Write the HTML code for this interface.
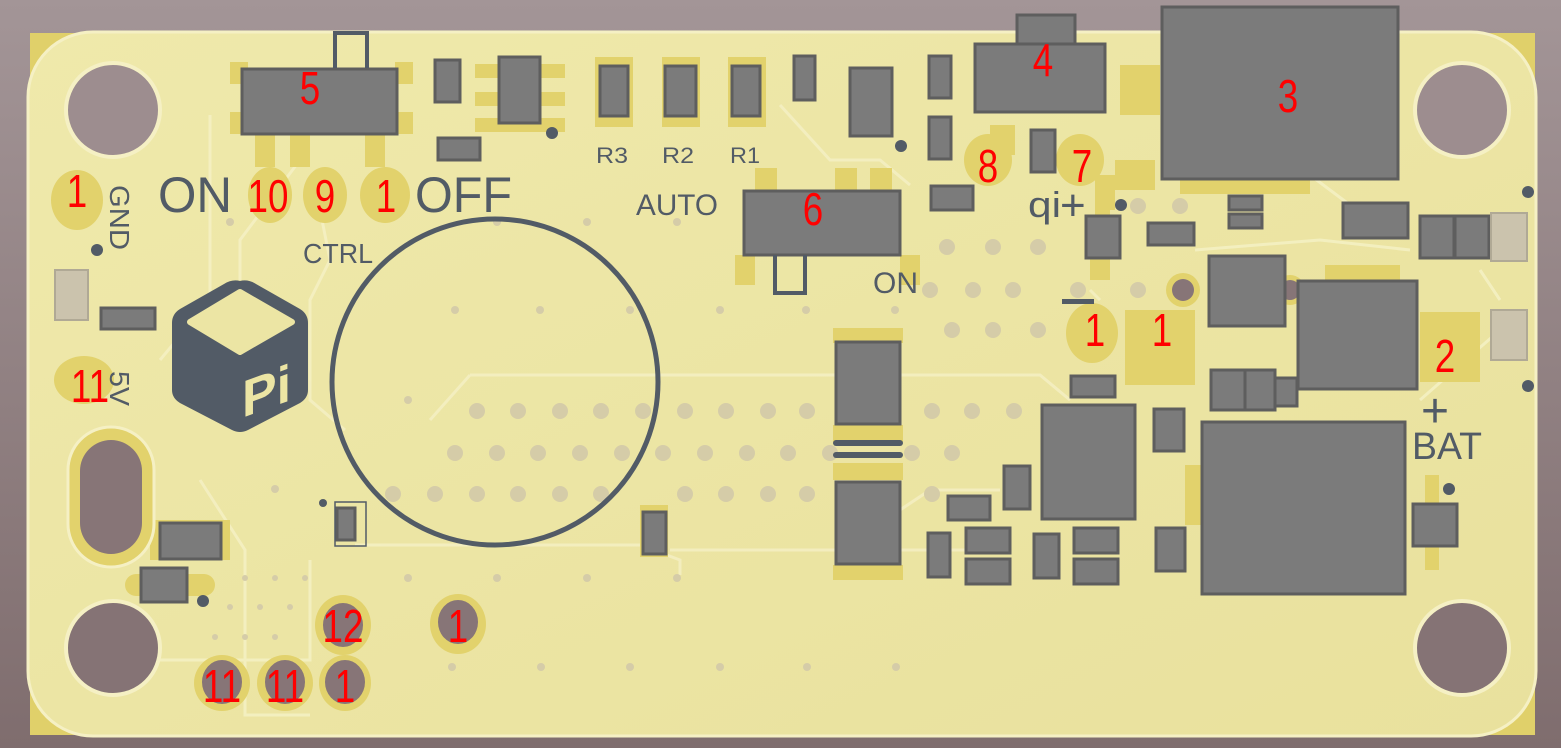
<!DOCTYPE html>
<html><head><meta charset="utf-8"><style>
html,body{margin:0;padding:0;width:1561px;height:748px;overflow:hidden}
svg{display:block}
.r{fill:#ff0000;font-family:"Liberation Sans",sans-serif;font-size:46px;text-anchor:middle}
.g{fill:#525b66;font-family:"Liberation Sans",sans-serif}
</style></head><body>
<svg width="1561" height="748" viewBox="0 0 1561 748" xmlns="http://www.w3.org/2000/svg">
<defs>
<linearGradient id="bg" x1="0" y1="0" x2="0" y2="1"><stop offset="0" stop-color="#a39597"/><stop offset="1" stop-color="#7f6d6e"/></linearGradient>
<linearGradient id="bd" x1="0" y1="0" x2="1" y2="1"><stop offset="0" stop-color="#efe9ab"/><stop offset="1" stop-color="#e9e19d"/></linearGradient>
</defs>
<rect width="1561" height="748" fill="url(#bg)"/>
<rect x="30" y="33" width="60" height="60" fill="#e0d06a"/>
<rect x="1475" y="33" width="60" height="60" fill="#e0d06a"/>
<rect x="30" y="675" width="60" height="60" fill="#e0d06a"/>
<rect x="1475" y="675" width="60" height="60" fill="#e0d06a"/>
<rect x="28" y="32" width="1508" height="704" rx="65" fill="url(#bd)" stroke="#f5f0c4" stroke-width="3"/>
<g fill="none" stroke="#f4efc2" stroke-width="3" opacity="0.9">
<path d="M210 115 V300 L160 360 M300 160 L240 240 L240 280 M320 210 L330 260 L310 300 L310 400 L345 430 M470 375 L1040 375 L1070 400"/>
<path d="M155 660 H310 V560 M200 480 L245 550 L245 715 H310 M355 545 H640 L680 560 V575 M670 550 H1000"/>
<path d="M780 105 L830 160 L880 160 L910 185 M1290 160 L1350 205 M1195 250 L1320 240 L1410 250 M1480 270 L1500 300 M1420 400 L1500 330"/>
<path d="M470 375 L430 420 M1090 290 L1100 300 M900 510 L930 490 L1000 490"/>
</g>
<g fill="#e2d26c">
<rect x="230" y="62" width="18" height="22"/><rect x="395" y="62" width="18" height="22"/>
<rect x="230" y="112" width="18" height="22"/><rect x="395" y="112" width="18" height="22"/>
<rect x="255" y="135" width="20" height="32"/><rect x="290" y="135" width="20" height="32"/><rect x="365" y="135" width="20" height="32"/>
<rect x="595" y="57" width="38" height="70"/><rect x="662" y="57" width="38" height="70"/><rect x="728" y="57" width="38" height="70"/>
<rect x="475" y="64" width="90" height="14"/><rect x="475" y="92" width="90" height="14"/><rect x="475" y="118" width="90" height="14"/>
<rect x="990" y="125" width="25" height="30"/><rect x="1120" y="65" width="40" height="50"/>
<rect x="1115" y="160" width="40" height="30"/><rect x="1180" y="180" width="130" height="14"/>
<rect x="755" y="168" width="22" height="22"/><rect x="835" y="168" width="22" height="22"/><rect x="870" y="168" width="22" height="22"/>
<rect x="735" y="255" width="20" height="30"/><rect x="900" y="255" width="20" height="30"/>
<rect x="1125" y="310" width="70" height="75"/><rect x="1420" y="312" width="60" height="70"/>
<rect x="1325" y="265" width="75" height="20"/><rect x="1205" y="545" width="55" height="20"/>
<rect x="1090" y="250" width="20" height="30"/><rect x="1095" y="175" width="20" height="35"/>
<rect x="833" y="328" width="70" height="15"/><rect x="833" y="425" width="70" height="17"/><rect x="833" y="463" width="70" height="17"/><rect x="833" y="565" width="70" height="15"/>
<rect x="1185" y="465" width="25" height="60"/><rect x="640" y="505" width="28" height="52"/>
<rect x="1425" y="475" width="14" height="45"/><rect x="1425" y="540" width="14" height="30"/>
<rect x="125" y="574" width="90" height="22" rx="11"/>
<rect x="150" y="520" width="80" height="40"/>
<ellipse cx="77" cy="200" rx="26" ry="30"/>
<ellipse cx="270" cy="195" rx="22" ry="28"/><ellipse cx="325" cy="195" rx="22" ry="28"/><ellipse cx="385" cy="195" rx="25" ry="28"/>
<ellipse cx="84" cy="380" rx="30" ry="24"/>
<ellipse cx="988" cy="160" rx="24" ry="26"/><ellipse cx="1080" cy="160" rx="24" ry="26"/>
<ellipse cx="1092" cy="333" rx="26" ry="30"/>
<rect x="1095" y="200" width="15" height="80" rx="7"/>
<ellipse cx="1183" cy="290" rx="17" ry="17"/><ellipse cx="1290" cy="290" rx="15" ry="15"/>
</g>
<g stroke="#f5f0c4" stroke-width="4">
<ellipse cx="113" cy="110" rx="47" ry="47" fill="#9d8d8f"/><ellipse cx="1462" cy="110" rx="47" ry="47" fill="#9d8d8f"/>
<ellipse cx="113" cy="648" rx="47" ry="47" fill="#857375"/><ellipse cx="1462" cy="648" rx="47" ry="47" fill="#857375"/>
</g>
<rect x="68" y="427" width="86" height="140" rx="43" fill="#e2d26c" stroke="#f5f0c4" stroke-width="3"/>
<rect x="80" y="440" width="62" height="114" rx="31" fill="#877577"/>
<g fill="#e2d26c"><ellipse cx="343" cy="625" rx="28" ry="30"/><ellipse cx="458" cy="624" rx="28" ry="30"/><ellipse cx="222" cy="683" rx="28" ry="28"/><ellipse cx="285" cy="683" rx="28" ry="28"/><ellipse cx="345" cy="683" rx="26" ry="28"/></g>
<g fill="#877577"><ellipse cx="343" cy="625" rx="20" ry="22"/><ellipse cx="458" cy="622" rx="20" ry="22"/><ellipse cx="222" cy="682" rx="20" ry="22"/><ellipse cx="285" cy="682" rx="20" ry="22"/><ellipse cx="345" cy="682" rx="20" ry="22"/><circle cx="1183" cy="290" r="11"/><circle cx="1290" cy="290" r="10"/></g>
<g fill="#d5cca8">
<circle cx="477" cy="411" r="8"/><circle cx="518" cy="411" r="8"/><circle cx="560" cy="411" r="8"/><circle cx="601" cy="411" r="8"/><circle cx="643" cy="411" r="8"/><circle cx="685" cy="411" r="8"/><circle cx="726" cy="411" r="8"/><circle cx="768" cy="411" r="8"/><circle cx="807" cy="411" r="8"/><circle cx="932" cy="411" r="8"/><circle cx="972" cy="411" r="8"/><circle cx="1014" cy="411" r="8"/>
<circle cx="455" cy="453" r="8"/><circle cx="497" cy="453" r="8"/><circle cx="538" cy="453" r="8"/><circle cx="580" cy="453" r="8"/><circle cx="622" cy="453" r="8"/><circle cx="663" cy="453" r="8"/><circle cx="705" cy="453" r="8"/><circle cx="747" cy="453" r="8"/><circle cx="788" cy="453" r="8"/><circle cx="830" cy="453" r="8"/><circle cx="912" cy="453" r="8"/><circle cx="952" cy="453" r="8"/>
<circle cx="393" cy="494" r="8"/><circle cx="435" cy="494" r="8"/><circle cx="477" cy="494" r="8"/><circle cx="518" cy="494" r="8"/><circle cx="560" cy="494" r="8"/><circle cx="601" cy="494" r="8"/><circle cx="685" cy="494" r="8"/><circle cx="726" cy="494" r="8"/><circle cx="768" cy="494" r="8"/><circle cx="807" cy="494" r="8"/><circle cx="932" cy="494" r="8"/>
<circle cx="947" cy="247" r="8"/><circle cx="993" cy="247" r="8"/><circle cx="1038" cy="247" r="8"/><circle cx="1138" cy="206" r="8"/><circle cx="1180" cy="206" r="8"/>
<circle cx="930" cy="290" r="8"/><circle cx="973" cy="290" r="8"/><circle cx="1013" cy="290" r="8"/><circle cx="1138" cy="290" r="8"/>
<circle cx="952" cy="330" r="8"/><circle cx="993" cy="330" r="8"/><circle cx="1038" cy="330" r="8"/><circle cx="1078" cy="290" r="8"/>
<circle cx="455" cy="310" r="4"/><circle cx="540" cy="310" r="4"/><circle cx="630" cy="310" r="4"/><circle cx="720" cy="310" r="4"/><circle cx="806" cy="310" r="4"/><circle cx="895" cy="310" r="4"/>
<circle cx="230" cy="222" r="4"/><circle cx="497" cy="222" r="4"/><circle cx="587" cy="222" r="4"/><circle cx="677" cy="222" r="4"/>
<circle cx="408" cy="400" r="4"/><circle cx="275" cy="489" r="4"/>
<circle cx="408" cy="578" r="4"/><circle cx="497" cy="578" r="4"/><circle cx="587" cy="578" r="4"/><circle cx="677" cy="578" r="4"/>
<circle cx="452" cy="667" r="4"/><circle cx="541" cy="667" r="4"/><circle cx="630" cy="667" r="4"/><circle cx="720" cy="667" r="4"/><circle cx="807" cy="667" r="4"/><circle cx="896" cy="667" r="4"/>
<circle cx="245" cy="578" r="3"/><circle cx="275" cy="578" r="3"/><circle cx="305" cy="578" r="3"/><circle cx="230" cy="607" r="3"/><circle cx="260" cy="607" r="3"/><circle cx="290" cy="607" r="3"/><circle cx="215" cy="637" r="3"/><circle cx="245" cy="637" r="3"/><circle cx="275" cy="637" r="3"/>
</g>
<g fill="#525b66"><circle cx="97" cy="250" r="6"/><circle cx="552" cy="133" r="6"/><circle cx="901" cy="146" r="6"/><circle cx="1121" cy="205" r="6"/><circle cx="1528" cy="192" r="6"/><circle cx="1528" cy="386" r="6"/><circle cx="1449" cy="489" r="6"/><circle cx="203" cy="601" r="6"/><circle cx="323" cy="503" r="4"/></g>
<circle cx="495" cy="382" r="163" fill="none" stroke="#525b66" stroke-width="5"/>
<g fill="#7b7b7b" stroke="#5e5e5e" stroke-width="3">
<rect x="242" y="69" width="155" height="65"/>
<rect x="435" y="60" width="25" height="42"/><rect x="499" y="57" width="41" height="66"/><rect x="438" y="138" width="42" height="22"/>
<rect x="600" y="66" width="28" height="50"/><rect x="665" y="66" width="31" height="50"/><rect x="732" y="66" width="28" height="50"/>
<rect x="794" y="56" width="21" height="44"/><rect x="850" y="68" width="42" height="68"/>
<rect x="929" y="56" width="22" height="42"/><rect x="929" y="117" width="22" height="42"/><rect x="931" y="186" width="42" height="24"/>
<rect x="975" y="44" width="130" height="68"/><rect x="1017" y="15" width="58" height="29"/>
<rect x="1162" y="7" width="236" height="172"/>
<rect x="744" y="191" width="156" height="64"/>
<rect x="1031" y="130" width="24" height="42"/><rect x="1086" y="216" width="34" height="42"/><rect x="1148" y="223" width="46" height="22"/>
<rect x="1229" y="196" width="33" height="14"/><rect x="1229" y="214" width="33" height="14"/>
<rect x="1343" y="203" width="65" height="35"/><rect x="1420" y="216" width="34" height="42"/><rect x="1455" y="216" width="34" height="42"/>
<rect x="1209" y="256" width="76" height="70"/><rect x="1298" y="281" width="119" height="108"/>
<rect x="1211" y="370" width="34" height="40"/><rect x="1245" y="370" width="30" height="40"/><rect x="1275" y="378" width="22" height="28"/>
<rect x="1071" y="376" width="44" height="21"/><rect x="1042" y="405" width="93" height="114"/>
<rect x="1154" y="409" width="30" height="42"/><rect x="1202" y="422" width="203" height="172"/>
<rect x="1004" y="466" width="26" height="43"/><rect x="948" y="496" width="42" height="24"/>
<rect x="928" y="533" width="22" height="44"/><rect x="966" y="528" width="44" height="25"/><rect x="966" y="559" width="44" height="25"/>
<rect x="1034" y="534" width="25" height="44"/><rect x="1074" y="528" width="44" height="25"/><rect x="1074" y="559" width="44" height="25"/>
<rect x="1156" y="528" width="29" height="43"/><rect x="1413" y="504" width="44" height="42"/>
<rect x="836" y="342" width="64" height="82"/><rect x="836" y="482" width="64" height="82"/>
<rect x="643" y="512" width="23" height="42"/><rect x="337" y="508" width="18" height="32"/>
<rect x="160" y="523" width="61" height="36"/><rect x="141" y="568" width="46" height="34"/>
<rect x="101" y="308" width="54" height="21"/>
</g>
<g fill="#cbc3ad" stroke="#b0a995" stroke-width="2"><rect x="55" y="270" width="33" height="50"/><rect x="1491" y="213" width="36" height="48"/><rect x="1491" y="310" width="36" height="50"/></g>
<rect x="335" y="502" width="31" height="44" fill="none" stroke="#525b66" stroke-width="1.5"/>
<path d="M335 68 V33 H367 V68" fill="none" stroke="#525b66" stroke-width="4"/>
<path d="M775 255 V293 H805 V255" fill="none" stroke="#525b66" stroke-width="4"/>
<rect x="833" y="440" width="70" height="6" rx="3" fill="#525b66"/><rect x="833" y="452" width="70" height="6" rx="3" fill="#525b66"/>
<rect x="1062" y="299" width="32" height="5" fill="#525b66"/>
<path d="M240 281 Q248 279 256 284 L300 309 Q308 314 308 323 V390 Q308 398 300 403 L248 430 Q240 434 232 430 L180 403 Q172 398 172 390 V323 Q172 314 180 309 L224 284 Q232 279 240 281 Z" fill="#525b66"/>
<path d="M190 322 L240 292 L292 322 L240 352 Z" fill="#ece5a4" stroke="#ece5a4" stroke-width="6" stroke-linejoin="round"/>
<text x="242" y="418" fill="#ece5a4" font-family="Liberation Sans,sans-serif" font-weight="bold" font-size="52" transform="skewY(-20) translate(0,88)">Pi</text>
<g class="g">
<text x="158" y="212" font-size="50" textLength="74" lengthAdjust="spacingAndGlyphs">ON</text>
<text x="415" y="212" font-size="50" textLength="97" lengthAdjust="spacingAndGlyphs">OFF</text>
<text x="303" y="263" font-size="28" textLength="70" lengthAdjust="spacingAndGlyphs">CTRL</text>
<text x="636" y="215" font-size="30" textLength="82" lengthAdjust="spacingAndGlyphs">AUTO</text>
<text x="873" y="293" font-size="30" textLength="45" lengthAdjust="spacingAndGlyphs">ON</text>
<text x="596" y="163" font-size="22" textLength="32" lengthAdjust="spacingAndGlyphs">R3</text>
<text x="662" y="163" font-size="22" textLength="32" lengthAdjust="spacingAndGlyphs">R2</text>
<text x="730" y="163" font-size="22" textLength="30" lengthAdjust="spacingAndGlyphs">R1</text>
<text x="1028" y="217" font-size="36" textLength="33" lengthAdjust="spacingAndGlyphs">qi</text>
<text x="1060" y="220" font-size="44">+</text>
<text x="1412" y="459" font-size="38" textLength="70" lengthAdjust="spacingAndGlyphs">BAT</text>
<text x="1421" y="427" font-size="48">+</text>
<text transform="translate(110,185) rotate(90)" font-size="28" textLength="65" lengthAdjust="spacingAndGlyphs">GND</text>
<text transform="translate(110,371) rotate(90)" font-size="28" textLength="35" lengthAdjust="spacingAndGlyphs">5V</text>
</g>
<g class="r">
<text transform="translate(77,207) scale(0.8,1)">1</text>
<text transform="translate(310,104) scale(0.8,1)">5</text>
<text transform="translate(268,212) scale(0.8,1)">10</text>
<text transform="translate(325,212) scale(0.8,1)">9</text>
<text transform="translate(386,212) scale(0.8,1)">1</text>
<text transform="translate(813,225) scale(0.8,1)">6</text>
<text transform="translate(1043,76) scale(0.8,1)">4</text>
<text transform="translate(1288,112) scale(0.8,1)">3</text>
<text transform="translate(988,182) scale(0.8,1)">8</text>
<text transform="translate(1082,182) scale(0.8,1)">7</text>
<text transform="translate(1095,346) scale(0.8,1)">1</text>
<text transform="translate(1162,346) scale(0.8,1)">1</text>
<text transform="translate(1445,372) scale(0.8,1)">2</text>
<text transform="translate(90,402) scale(0.8,1)">11</text>
<text transform="translate(343,642) scale(0.8,1)">12</text>
<text transform="translate(458,642) scale(0.8,1)">1</text>
<text transform="translate(222,702) scale(0.8,1)">11</text>
<text transform="translate(285,702) scale(0.8,1)">11</text>
<text transform="translate(345,702) scale(0.8,1)">1</text>
</g>
</svg>
</body></html>
